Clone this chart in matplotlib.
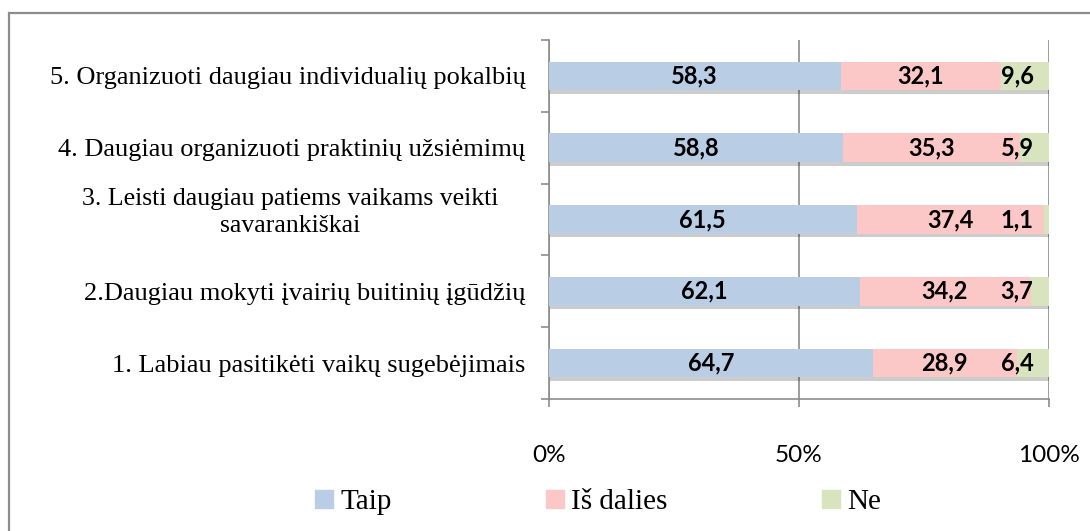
import numpy as np
import matplotlib.pyplot as plt
import matplotlib.patheffects as pe
from matplotlib.patches import Rectangle
from matplotlib.lines import Line2D

categories = ["1. Labiau pasitikėti vaikų sugebėjimais",
              "2.Daugiau mokyti įvairių buitinių įgūdžių",
              "3. Leisti daugiau patiems vaikams veikti\nsavarankiškai",
              "4. Daugiau organizuoti praktinių užsiėmimų",
              "5. Organizuoti daugiau individualių pokalbių"]
taip = [64.7, 62.1, 61.5, 58.8, 58.3]
is_dalies = [28.9, 34.2, 37.4, 35.3, 32.1]
ne = [6.4, 3.7, 1.1, 5.9, 9.6]
series_names = ["Taip", "Iš dalies", "Ne"]
colors = ["#B9CDE5", "#FCC8C7", "#D7E4BD"]

W, H = 1090, 531
fig = plt.figure(figsize=(W / 100, H / 100), dpi=100)
ax = fig.add_axes([549 / W, 1 - 399 / H, 500 / W, 359 / H])

# outer chart frame
fig.patches.append(Rectangle((9 / W, -0.05), 1.2, 1 - 13 / H + 0.05,
                             transform=fig.transFigure, fill=False,
                             edgecolor="#8c8c8c", linewidth=1.6))

y = np.arange(len(categories))
shadow = [pe.SimplePatchShadow(offset=(1, -2.5), shadow_rgbFace="#000000", alpha=0.2), pe.Normal()]
left = np.zeros(len(categories))
for vals, name, c in zip([taip, is_dalies, ne], series_names, colors):
    bars = ax.barh(y, vals, left=left, height=0.4, color=c, label=name, zorder=3)
    for b in bars:
        b.set_path_effects(shadow)
    left = left + np.array(vals)

def fmt(v):
    return f"{v:.1f}".replace(".", ",")

lab_font = dict(family=["Lato", "DejaVu Sans"], fontsize=17, fontweight="bold", color="black", zorder=5)
for i in y:
    ax.text(taip[i] / 2, i, fmt(taip[i]), ha="center", va="center", **lab_font)
    ax.text(taip[i] + is_dalies[i] / 2, i, fmt(is_dalies[i]), ha="center", va="center", **lab_font)
    ax.text(93.6, i, fmt(ne[i]), ha="center", va="center", **lab_font)

ax.set_xlim(0, 100)
ax.set_ylim(-0.5, len(categories) - 0.5)
ax.set_xticks([0, 50, 100])
ax.set_xticklabels(["0%", "50%", "100%"], family=["Lato", "DejaVu Sans"], fontsize=17.5)
ax.set_yticks(y)
# the wrapped label is drawn centred on its own, like the original
ticklabels = [c if "\n" not in c else "" for c in categories]
ax.set_yticklabels(ticklabels, family=["Liberation Serif"], fontsize=19)
for i, c in enumerate(categories):
    if "\n" in c:
        ax.text(-0.518, i + 0.1, c, transform=ax.get_yaxis_transform(), ha="center", va="center",
                family="Liberation Serif", fontsize=18.5, linespacing=1.3)
ax.set_yticks(np.arange(-0.5, len(categories), 1), minor=True)
ax.tick_params(axis="y", which="major", length=0, pad=17)
ax.tick_params(axis="y", which="minor", length=6, color="#8c8c8c", width=1.2)
ax.tick_params(axis="x", length=6, color="#8c8c8c", width=1.2, pad=27)

for s in ["top", "right"]:
    ax.spines[s].set_visible(False)
for s in ["left", "bottom"]:
    ax.spines[s].set_color("#8c8c8c")
    ax.spines[s].set_linewidth(1.2)
ax.grid(axis="x", color="#8c8c8c", linewidth=1.2, zorder=0)
ax.set_axisbelow(True)

handles = [Line2D([], [], marker="s", linestyle="none", markersize=13, markerfacecolor=c,
                  markeredgecolor=c) for c in colors]
fig.legend(handles, series_names, loc="center", bbox_to_anchor=(598 / W, 1 - 502 / H), ncol=3,
           frameon=False, prop=dict(family="Liberation Serif", size=21),
           handlelength=0.6, handletextpad=0.25, columnspacing=5.3)

fig.savefig("out.png", dpi=100)
